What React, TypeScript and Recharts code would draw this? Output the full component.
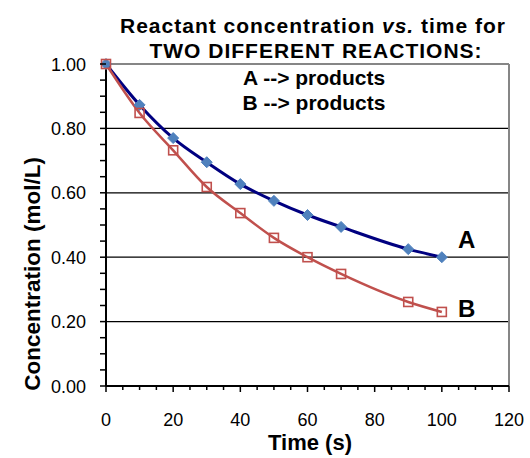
import React from 'react';
import { LineChart, Line, XAxis, YAxis, ReferenceLine } from 'recharts';

const times = [0, 10, 20, 30, 40, 50, 60, 70, 90, 100];
const concA = [1.0, 0.873, 0.77, 0.695, 0.627, 0.575, 0.531, 0.494, 0.425, 0.4];
const concB = [1.0, 0.848, 0.732, 0.618, 0.537, 0.46, 0.4, 0.348, 0.261, 0.23];

const xTicks = [0, 5, 10, 15, 20, 25, 30, 35, 40, 45, 50, 55, 60, 65, 70, 75, 80, 85, 90, 95, 100, 105, 110, 115, 120];
const xLabelTicks = [0, 20, 40, 60, 80, 100, 120];
const yTicks = [0, 0.05, 0.1, 0.15, 0.2, 0.25, 0.3, 0.35, 0.4, 0.45, 0.5, 0.55, 0.6, 0.65, 0.7, 0.75, 0.8, 0.85, 0.9, 0.95, 1.0];
const yLabelTicks = [0, 0.2, 0.4, 0.6, 0.8, 1.0];
const yGridLines = [0.2, 0.4, 0.6, 0.8];

const titleLine1a = 'Reactant concentration';
const titleLine1b = 'vs.';
const titleLine1c = 'time for';
const titleLine2 = 'TWO DIFFERENT REACTIONS:';
const subtitle1 = 'A --> products';
const subtitle2 = 'B --> products';
const xTitle = 'Time (s)';
const yTitle = 'Concentration (mol/L)';
const seriesLabelA = 'A';
const seriesLabelB = 'B';

const data = times.map((t, i) => ({ t, a: concA[i], b: concB[i] }));

const FONT = '"Liberation Sans", Arial, sans-serif';

const isMajorY = (v: number) => yLabelTicks.some((m) => Math.abs(m - v) < 1e-6);
const isMajorX = (v: number) => xLabelTicks.includes(v);

const YTick = (props: any) => {
  const { x, y, payload } = props;
  const v = payload.value as number;
  return (
    <g>
      <line x1={x - 6} x2={x} y1={y} y2={y} stroke="#000" strokeWidth={1.5} />
      {isMajorY(v) && (
        <text x={x - 20} y={y + 6.5} textAnchor="end" fontSize={18} fontFamily={FONT} fill="#000">
          {v.toFixed(2)}
        </text>
      )}
    </g>
  );
};

const XTick = (props: any) => {
  const { x, y, payload } = props;
  const v = payload.value as number;
  const major = isMajorX(v);
  return (
    <g>
      <line x1={x} x2={x} y1={y} y2={y + (major ? 6 : 4)} stroke="#000" strokeWidth={1.5} />
      {major && (
        <text x={x} y={y + 40} textAnchor="middle" fontSize={18} fontFamily={FONT} fill="#000">
          {v}
        </text>
      )}
    </g>
  );
};

const Diamond = (props: any) => {
  const { cx, cy } = props;
  if (cx == null || cy == null) return <g />;
  const r = 5.5;
  return (
    <path
      d={`M${cx},${cy - r}L${cx + r},${cy}L${cx},${cy + r}L${cx - r},${cy}Z`}
      fill="#4F81BD"
      stroke="#4F81BD"
      strokeWidth={1}
    />
  );
};

const Square = (props: any) => {
  const { cx, cy } = props;
  if (cx == null || cy == null) return <g />;
  const s = 4.5;
  return <rect x={cx - s} y={cy - s} width={2 * s} height={2 * s} fill="none" stroke="#C0504D" strokeWidth={1.6} />;
};

export default function App() {
  return (
    <div style={{ position: 'absolute', left: 0, top: 0, width: 530, height: 458, background: '#fff' }}>
      <LineChart
        width={530}
        height={458}
        data={data}
        margin={{ top: 64, right: 21, bottom: 0, left: 0 }}
        style={{ position: 'absolute', left: 0, top: 0 }}
      >
        <XAxis
          type="number"
          dataKey="t"
          domain={[0, 120]}
          ticks={xTicks}
          interval={0}
          height={72}
          tickSize={0}
          tickMargin={0}
          tickLine={false}
          tick={<XTick />}
          axisLine={{ stroke: '#000', strokeWidth: 2 }}
        />
        <YAxis
          type="number"
          domain={[0, 1]}
          ticks={yTicks}
          interval={0}
          width={106}
          tickSize={0}
          tickMargin={0}
          tickLine={false}
          tick={<YTick />}
          axisLine={{ stroke: '#000', strokeWidth: 2 }}
        />
        {yGridLines.map((v) => (
          <ReferenceLine key={v} y={v} stroke="#000" strokeWidth={1.2} />
        ))}
        <ReferenceLine y={1} stroke="#868686" strokeWidth={2} />
        <ReferenceLine x={120} stroke="#868686" strokeWidth={2} />
        <Line
          type="monotone"
          dataKey="a"
          stroke="#000080"
          strokeWidth={3}
          dot={<Diamond />}
          activeDot={false}
          isAnimationActive={false}
        />
        <Line
          type="monotone"
          dataKey="b"
          stroke="#C0504D"
          strokeWidth={2.5}
          dot={<Square />}
          activeDot={false}
          isAnimationActive={false}
        />
      </LineChart>
      <svg width={530} height={458} style={{ position: 'absolute', left: 0, top: 0, pointerEvents: 'none' }}>
        <g fontFamily={FONT} fontWeight="bold" fill="#000">
          <text x={120} y={33} textAnchor="start" fontSize={21} letterSpacing={1}>
            {titleLine1a}
          </text>
          <text x={382} y={33} textAnchor="start" fontSize={21} letterSpacing={1} fontStyle="italic">
            {titleLine1b}
          </text>
          <text x={421} y={33} textAnchor="start" fontSize={21} letterSpacing={1}>
            {titleLine1c}
          </text>
          <text x={316} y={58} textAnchor="middle" fontSize={21} letterSpacing={1}>
            {titleLine2}
          </text>
          <text x={314} y={85} textAnchor="middle" fontSize={21}>
            {subtitle1}
          </text>
          <text x={314} y={110} textAnchor="middle" fontSize={21}>
            {subtitle2}
          </text>
          <text x={310} y={450} textAnchor="middle" fontSize={22}>
            {xTitle}
          </text>
          <text x={40} y={274} textAnchor="middle" fontSize={22.5} transform="rotate(-90, 40, 274)">
            {yTitle}
          </text>
          <text x={458} y={248} fontSize={24}>
            {seriesLabelA}
          </text>
          <text x={458} y={317} fontSize={24}>
            {seriesLabelB}
          </text>
        </g>
      </svg>
    </div>
  );
}
